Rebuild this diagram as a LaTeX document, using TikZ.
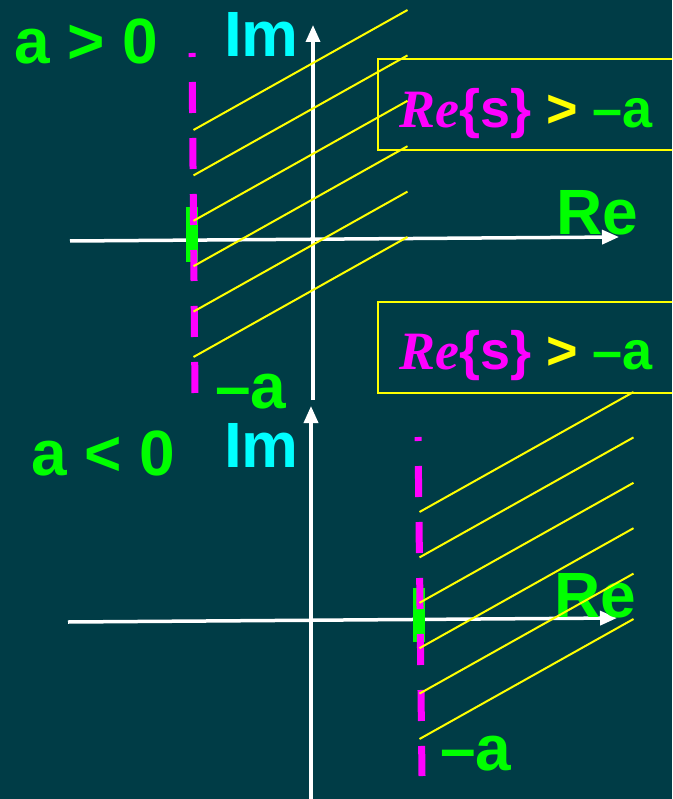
\documentclass[tikz,border=0pt]{standalone}
\usepackage{fontspec}
\setmainfont{Liberation Sans}
\newfontfamily\refont{Liberation Serif}
\usetikzlibrary{arrows.meta}
\definecolor{bgteal}{RGB}{0,60,70}
\definecolor{roimag}{RGB}{255,0,255}
\definecolor{roiyel}{RGB}{255,255,0}
\definecolor{lblgreen}{RGB}{0,255,0}
\definecolor{lblcyan}{RGB}{0,255,255}
\tikzset{
  axis/.style={white, line width=3.5pt, -{Triangle[length=17pt,width=14pt]}},
  lbl/.style={anchor=base west, inner sep=0pt, font=\fontsize{64}{70}\selectfont\bfseries},
  roibox/.style={draw=roiyel, line width=1.6pt, anchor=north west, minimum width=330pt, minimum height=91pt, inner sep=0pt},
  roitext/.style={anchor=base west, inner sep=0pt, font=\fontsize{54}{60}\selectfont\bfseries},
  bound/.style={roimag, line width=7pt, dash pattern=on 31pt off 25pt, dash phase=27pt},
  pole/.style={lblgreen, line width=12pt},
  hatch/.style={roiyel, line width=2pt}
}
\newcommand{\roiexpr}{\textcolor{roimag}{{\refont\bfseries\itshape Re}\{s\}} \textcolor{roiyel}{>} \textcolor{lblgreen}{–a}}
\begin{document}
\begin{tikzpicture}[x=1pt,y=-1pt]
  \fill[bgteal] (0,0) rectangle (672,799);
  \useasboundingbox (0,0) rectangle (672,799);
  \clip (0,0) rectangle (672,799);

  % upper plane, a > 0
  \coordinate (reTopL) at (70,241);
  \coordinate (reTopR) at (619,237);
  \coordinate (imTopB) at (313,400);
  \coordinate (imTopT) at (313,25);
  \draw[axis] (reTopL) -- (reTopR);
  \draw[axis] (imTopB) -- (imTopT);
  \node[lbl, lblgreen] (aPos) at (14,64) {a > 0};
  \node[lbl, lblcyan] (imTop) at (224,57) {Im};
  \node[lbl, lblgreen] (reTop) at (556,235) {Re};
  \node[lbl, lblgreen] (negATop) at (215,408) {–a};
  \node[roibox] (roiTop) at (377,58) {};
  \node[roitext] (roiTopText) at (399,128) {\roiexpr};
  \coordinate (poleTopT) at (192,207);
  \coordinate (poleTopB) at (192,262);
  \draw[pole] (poleTopT) -- (poleTopB);
  \coordinate (bndTopT) at (192,53);
  \coordinate (bndTopB) at (195,394);
  \draw[bound] (bndTopT) -- (bndTopB);
  \foreach \i in {0,...,5}
    \draw[hatch] (193.5,130+45.4*\i) -- ++(214,-120);

  % lower plane, a < 0
  \coordinate (reBotL) at (68,622);
  \coordinate (reBotR) at (617,618);
  \coordinate (imBotB) at (311,799);
  \coordinate (imBotT) at (311,406);
  \draw[axis] (reBotL) -- (reBotR);
  \draw[axis] (imBotB) -- (imBotT);
  \node[lbl, lblgreen] (aNeg) at (31,475) {a < 0};
  \node[lbl, lblcyan] (imBot) at (224,467) {Im};
  \node[lbl, lblgreen] (reBot) at (554,617) {Re};
  \node[lbl, lblgreen] (negABot) at (440,770) {–a};
  \node[roibox] (roiBot) at (377,301) {};
  \node[roitext] (roiBotText) at (399,369) {\roiexpr};
  \coordinate (poleBotT) at (419,588);
  \coordinate (poleBotB) at (419,642);
  \draw[pole] (poleBotT) -- (poleBotB);
  \coordinate (bndBotT) at (418,437);
  \coordinate (bndBotB) at (422,776);
  \draw[bound] (bndBotT) -- (bndBotB);
  \foreach \i in {0,...,5}
    \draw[hatch] (419.5,512+45.4*\i) -- ++(214,-120);
\end{tikzpicture}
\end{document}
